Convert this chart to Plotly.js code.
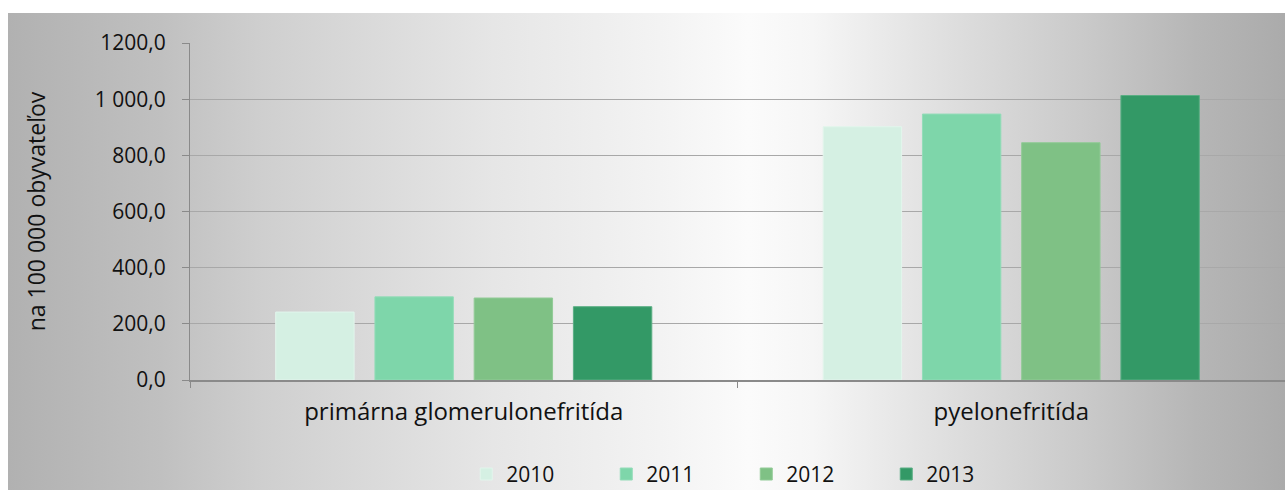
<!DOCTYPE html>
<html>
<head>
<meta charset="utf-8">
<script src="https://cdn.plot.ly/plotly-3.0.1.min.js"></script>
<style>
  html, body { margin: 0; padding: 0; background: #ffffff; }
  #wrap { position: relative; width: 1285px; height: 490px; overflow: hidden; }
  #bg { position: absolute; left: 8px; top: 13px; right: 0; bottom: 0;
        background: linear-gradient(to right, #b1b1b1 0%, #c0c0c0 12%, #cfcfcf 20%, #e6e6e6 38%, #f4f4f4 52%, #fbfbfb 58%, #f6f6f6 63%, #e2e2e2 72%, #c8c8c8 85%, #b6b6b6 93%, #ababab 100%); }
  #chart { position: absolute; left: 0; top: 0; width: 1285px; height: 490px; }
</style>
</head>
<body>
<div id="wrap">
  <div id="bg"></div>
  <div id="chart"></div>
</div>
<script>
const categories = ['primárna glomerulonefritída', 'pyelonefritída'];
const years = ['2010', '2011', '2012', '2013'];
const values2010 = [242, 902];
const values2011 = [296, 947];
const values2012 = [292, 845];
const values2013 = [261, 1013];
const yTickVals = [0, 200, 400, 600, 800, 1000, 1200];
const yTickText = ['0,0', '200,0', '400,0', '600,0', '800,0', '1 000,0', '1200,0'];
const yTitle = 'na 100 000 obyvateľov';

const seriesValues = [values2010, values2011, values2012, values2013];
const colors = ['#d5f0e3', '#7ed6aa', '#7fc185', '#339966'];
const lineColors = ['#e2f5ec', '#93dcb8', '#92cb97', '#5aae84'];

const traces = years.map((y, i) => ({
  type: 'bar',
  name: y,
  x: categories,
  y: seriesValues[i],
  marker: { color: colors[i], line: { color: lineColors[i], width: 1 } },
  hoverinfo: 'x+y+name'
}));

const font = { family: 'Open Sans, Lato, sans-serif', color: '#111111' };

const layout = {
  width: 1285, height: 490,
  autosize: false,
  paper_bgcolor: 'rgba(0,0,0,0)',
  plot_bgcolor: 'rgba(0,0,0,0)',
  margin: { l: 190, r: 0, t: 43, b: 110, autoexpand: false },
  barmode: 'group',
  bargap: 0.275,
  bargroupgap: 0.21,
  font: Object.assign({ size: 20 }, font),
  showlegend: true,
  legend: {
    orientation: 'h', x: 0.508, xanchor: 'center',
    y: -0.28, yanchor: 'middle',
    font: Object.assign({ size: 21 }, font),
    entrywidth: 95,
    bgcolor: 'rgba(0,0,0,0)',
    itemclick: false
  },
  xaxis: {
    type: 'category',
    showline: true, linecolor: '#8a8a8a', linewidth: 2,
    ticks: 'outside', tickson: 'boundaries', ticklen: 6, tickcolor: '#8a8a8a',
    tickfont: Object.assign({ size: 24 }, font),
    tickangle: 0,
    ticklabelstandoff: 9,
    showgrid: false,
    fixedrange: true
  },
  yaxis: {
    range: [0, 1200],
    tickvals: yTickVals, ticktext: yTickText,
    showline: true, linecolor: '#8a8a8a', linewidth: 1,
    ticks: 'outside', ticklen: 7, tickcolor: '#8a8a8a',
    tickfont: Object.assign({ size: 21 }, font),
    ticklabelstandoff: 12,
    showgrid: true, gridcolor: '#a8a8a8', gridwidth: 1,
    zeroline: false,
    title: { text: yTitle, font: Object.assign({ size: 23 }, font), standoff: 42 },
    fixedrange: true
  }
};

Plotly.newPlot('chart', traces, layout, { displayModeBar: false });
</script>
</body>
</html>
